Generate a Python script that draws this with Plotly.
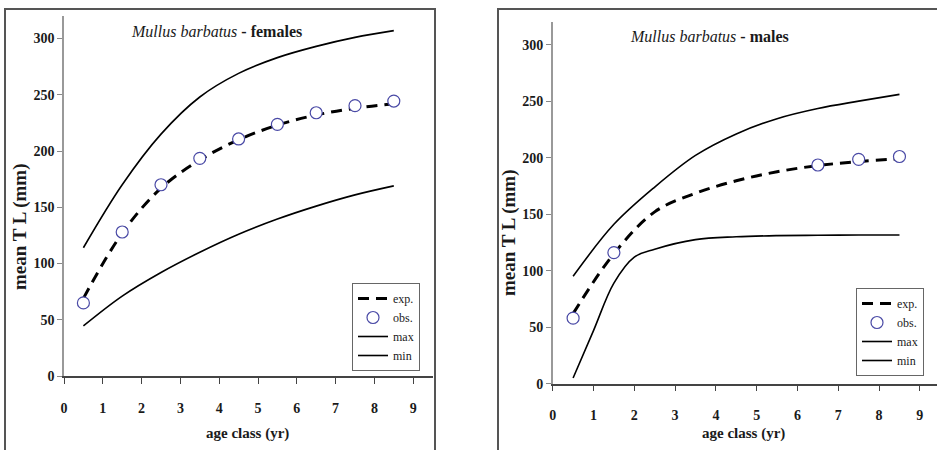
import plotly.graph_objects as go

# ---------------- data ----------------
ages = [0.5, 1.5, 2.5, 3.5, 4.5, 5.5, 6.5, 7.5, 8.5]

# females
f_exp = [69, 127, 167, 192, 210, 223, 232, 238, 242]
f_obs = [65, 128, 170, 193.5, 210.7, 223.7, 234, 240.3, 244.4]
f_max = [114, 170, 215, 248, 269, 283, 293, 301, 307]
f_min = [44.5, 71, 92, 110, 126, 139.5, 151, 161, 169]

# males
m_exp = [62, 115, 152, 168.5, 179.5, 187.5, 193, 196.5, 199]
m_obs_ages = [0.5, 1.5, 6.5, 7.5, 8.5]
m_obs = [58, 116, 193.5, 198.5, 201]
m_max = [95, 141, 174, 202, 221, 234.5, 243.5, 250, 256]
m_min_ages = [0.5, 1.0, 1.5, 2.0, 2.5, 3.5, 4.5, 5.5, 6.5, 7.5, 8.5]
m_min = [5, 47, 89, 112, 119, 127.5, 130, 131, 131.3, 131.5, 131.5]

x_ticks = [0, 1, 2, 3, 4, 5, 6, 7, 8, 9]
y_ticks = [0, 50, 100, 150, 200, 250, 300]
legend_names = ["exp.", "obs.", "max", "min"]

W, H = 937, 450
FONT = "Liberation Serif, Times New Roman, serif"
OBS_COLOR = "#4a4aa6"


def px(x):
    return x / W


def py(y):
    return 1 - y / H


fig = go.Figure()


def add_panel(xa, ya, leg, exp_x, exp_y, obs_x, obs_y, max_x, max_y, min_x, min_y):
    fig.add_trace(go.Scatter(x=exp_x, y=exp_y, mode="lines", name=legend_names[0],
                             line=dict(color="black", width=3, dash="11px,7px", shape="spline"),
                             xaxis=xa, yaxis=ya, legend=leg))
    fig.add_trace(go.Scatter(x=obs_x, y=obs_y, mode="markers", name=legend_names[1],
                             marker=dict(symbol="circle", size=12, color="white",
                                         line=dict(color=OBS_COLOR, width=1.2)),
                             xaxis=xa, yaxis=ya, legend=leg))
    fig.add_trace(go.Scatter(x=max_x, y=max_y, mode="lines", name=legend_names[2],
                             line=dict(color="black", width=1.6, shape="spline"),
                             xaxis=xa, yaxis=ya, legend=leg))
    fig.add_trace(go.Scatter(x=min_x, y=min_y, mode="lines", name=legend_names[3],
                             line=dict(color="black", width=1.6, shape="spline"),
                             xaxis=xa, yaxis=ya, legend=leg))


add_panel("x", "y", "legend", ages, f_exp, ages, f_obs, ages, f_max, ages, f_min)
add_panel("x2", "y2", "legend2", ages, m_exp, m_obs_ages, m_obs, ages, m_max, m_min_ages, m_min)

tickfont = dict(family=FONT, size=14, color="#1a1a1a", weight="bold")
xcommon = dict(tickmode="array", tickvals=x_ticks, ticks="outside", ticklen=6,
               tickcolor="#444", tickwidth=1.2, showline=True, linecolor="#444",
               linewidth=1.5, showgrid=False, zeroline=False, tickfont=tickfont,
               ticklabelstandoff=12, automargin=False)
ycommon = dict(tickmode="array", tickvals=y_ticks, ticks="outside", ticklen=5,
               tickcolor="#888", tickwidth=1.2, showline=True, linecolor="#999",
               linewidth=1.5, showgrid=False, zeroline=False, tickfont=tickfont,
               range=[0, 320], automargin=False)

legend_common = dict(font=dict(family=FONT, size=12, color="#1a1a1a"),
                     bgcolor="white", bordercolor="#666", borderwidth=1,
                     xanchor="right", yanchor="top", itemwidth=30,
                     tracegroupgap=0)

fig.update_layout(
    width=W, height=H,
    margin=dict(l=0, r=0, t=0, b=0, autoexpand=False),
    paper_bgcolor="white", plot_bgcolor="white",
    showlegend=True,
    xaxis=dict(domain=[px(64), px(432.6)], range=[0, 9.5], anchor="y", **xcommon),
    yaxis=dict(domain=[py(376), py(16)], anchor="x", **ycommon),
    xaxis2=dict(domain=[px(552.7), 1.0], range=[0, 9.42], anchor="y2", **xcommon),
    yaxis2=dict(domain=[py(383.7), py(22)], anchor="x2", **ycommon),
    legend=dict(x=px(420), y=py(283), **legend_common),
    legend2=dict(x=px(924), y=py(288), **legend_common),
)

# panel borders
fig.add_shape(type="rect", xref="paper", yref="paper",
              x0=px(5), x1=px(435), y0=-0.1, y1=py(9),
              line=dict(color="#555", width=2), layer="below")
fig.add_shape(type="rect", xref="paper", yref="paper",
              x0=px(498), x1=1.1, y0=-0.1, y1=py(9),
              line=dict(color="#555", width=2), layer="below")

ann_font = dict(family=FONT, size=15, color="#1a1a1a")
ytitle_font = dict(family=FONT, size=19, color="#1a1a1a")
title_font = dict(family=FONT, size=16, color="#1a1a1a")
# titles
fig.add_annotation(xref="paper", yref="paper", x=px(216), y=py(31),
                   text="<i>Mullus barbatus</i> <b>- females</b>", showarrow=False,
                   font=title_font, xanchor="center", yanchor="middle")
fig.add_annotation(xref="paper", yref="paper", x=px(709), y=py(37),
                   text="<i>Mullus barbatus</i> <b>- males</b>", showarrow=False,
                   font=title_font, xanchor="center", yanchor="middle")
# axis titles
for xc, yc in [(20, 227), (509, 233)]:
    fig.add_annotation(xref="paper", yref="paper", x=px(xc), y=py(yc),
                       text="<b>mean T L (mm)</b>", showarrow=False, textangle=-90,
                       font=ytitle_font, xanchor="center", yanchor="middle")
for xc, yc in [(247, 433), (743, 433)]:
    fig.add_annotation(xref="paper", yref="paper", x=px(xc), y=py(yc),
                       text="<b>age class (yr)</b>", showarrow=False,
                       font=ann_font, xanchor="center", yanchor="middle")

fig.write_html("out.html",
               config={"displayModeBar": False},
               post_script="document.body.style.margin='0';document.body.style.overflow='hidden';")
